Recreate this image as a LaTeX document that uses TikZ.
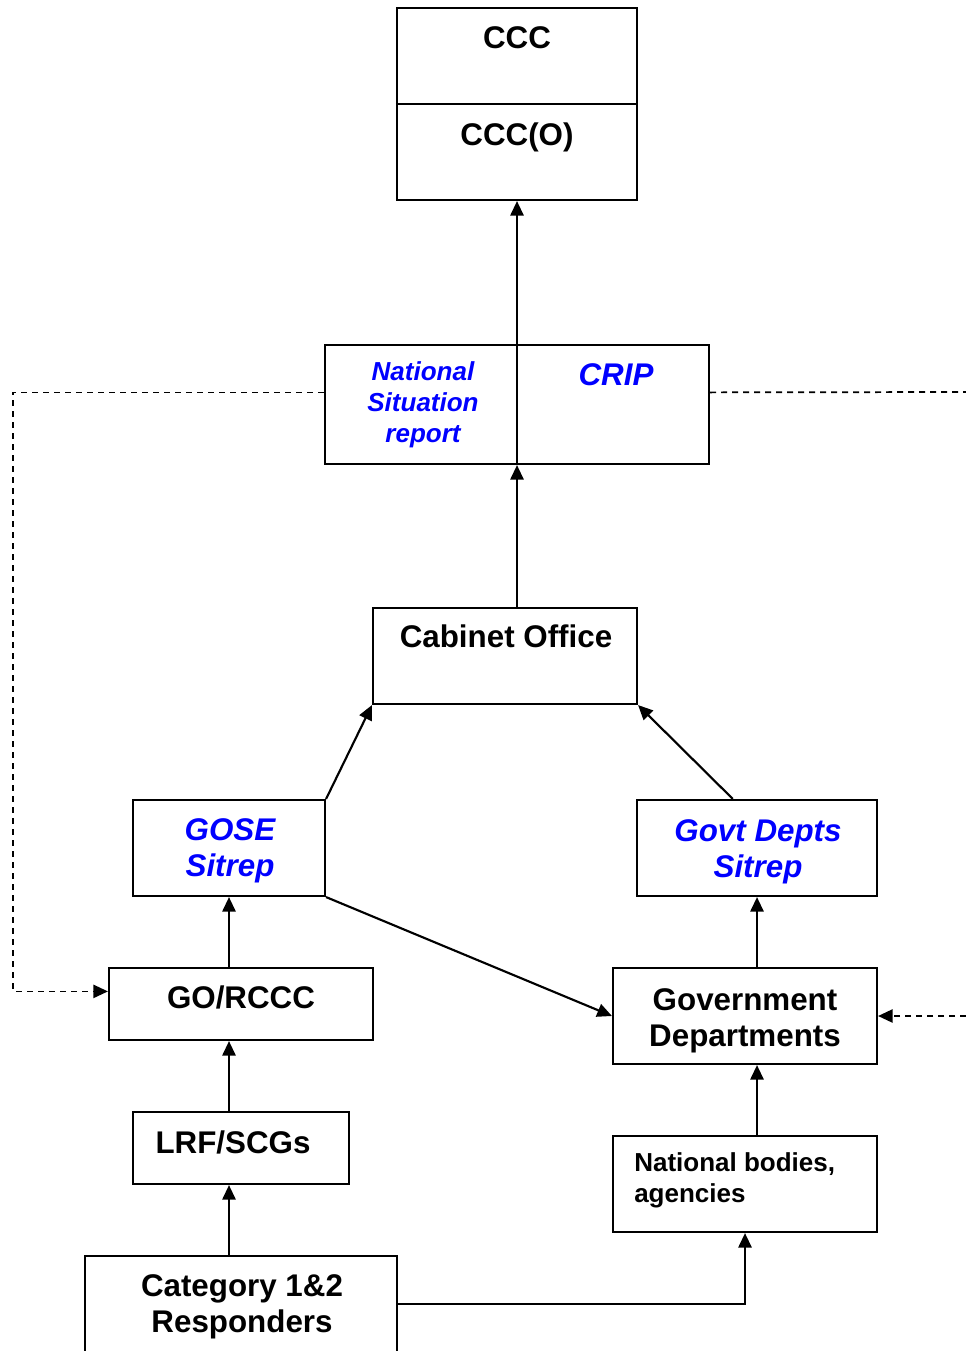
\documentclass[tikz,border=0pt]{standalone}
\usepackage{fontspec}
\setmainfont{Liberation Sans}
\usetikzlibrary{arrows.meta,fit,calc}
\definecolor{sitblue}{RGB}{0,0,255}
\begin{document}
\begin{tikzpicture}[x=0.75pt, y=-0.75pt,
  box/.style={draw, line width=1.6pt, inner sep=0pt},
  txt/.style={font=\bfseries\fontsize{23.5}{27.5}\selectfont, align=center, inner sep=0pt},
  sitrep/.style={txt, text=sitblue, font=\bfseries\itshape\fontsize{23.5}{27.5}\selectfont},
  smalltxt/.style={txt, font=\bfseries\fontsize{19.5}{23.25}\selectfont},
  sitsmall/.style={smalltxt, text=sitblue, font=\bfseries\itshape\fontsize{19.5}{23.25}\selectfont},
  arr/.style={line width=1.6pt, -{Triangle[length=11pt, width=10pt]}},
  dashline/.style={arr, line width=1.3pt, dash pattern=on 4.5pt off 3.75pt}]
  \useasboundingbox (0,0) rectangle (966,1351);
  \clip (0,0) rectangle (966,1351);

  % CCC
  \node[box, fit={(397,8) (637,200)}] (ccc) {};
  \draw[line width=1.6pt] (ccc.west) -- (ccc.east);
  \node[txt, anchor=base] (ccctxt) at (517,49) {CCC};
  \node[txt, anchor=base] (cccotxt) at (517,146) {CCC(O)};

  % situation report / CRIP
  \node[box, fit={(325,345) (709,464)}] (sit) {};
  \draw[line width=1.6pt] (sit.north) -- (sit.south);
  \node[sitsmall, anchor=north] (sittxt) at (423,361) {National\\Situation\\report};
  \node[sitrep, anchor=base] (criptxt) at (616,385) {CRIP};

  \node[box, fit={(373,608) (637,704)}] (cab) {};
  \node[txt, anchor=base] (cabtxt) at (506,647) {Cabinet Office};

  % sitreps
  \node[box, fit={(133,800) (325,896)}] (gose) {};
  \node[sitrep, anchor=north] (gosetxt) at (230,818) {GOSE\\Sitrep};
  \node[box, fit={(637,800) (877,896)}] (gsit) {};
  \node[sitrep, anchor=north] (gsittxt) at (758,819) {Govt Depts\\Sitrep};

  \node[box, fit={(109,968) (373,1040)}] (gorccc) {};
  \node[txt, anchor=base] (gorccctxt) at (241,1008) {GO/RCCC};
  \node[box, fit={(613,968) (877,1064)}] (govdep) {};
  \node[txt, anchor=north] (govdeptxt) at (745,988) {Government\\Departments};

  \node[box, fit={(133,1112) (349,1184)}] (lrf) {};
  \node[txt, anchor=base] (lrftxt) at (233,1153) {LRF/SCGs};
  \node[box, fit={(613,1136) (877,1232)}] (natbod) {};
  \node[smalltxt, align=left, anchor=north west] (natbodtxt) at (634,1152) {National bodies,\\agencies};

  \node[box, fit={(85,1256) (397,1352)}] (cat) {};
  \node[txt, anchor=north] (cattxt) at (242,1274) {Category 1\&2\\Responders};

  % arrows
  \draw[arr] (sit.north) -- (ccc.south);
  \draw[arr] (cab.north -| sit.south) -- (sit.south);
  \draw[arr] (gose.north east) -- (cab.south west);
  \draw[arr] ($(gsit.north west)!0.4!(gsit.north east)$) -- (cab.south east);
  \draw[arr] (gorccc.north -| gose.south) -- (gose.south);
  \draw[arr] (govdep.north -| gsit.south) -- (gsit.south);
  \draw[arr] (gose.south east) -- (govdep.west);
  \draw[arr] (lrf.north -| gose.south) -- (gorccc.south -| gose.south);
  \draw[arr] (natbod.north -| gsit.south) -- (govdep.south -| gsit.south);
  \draw[arr] (cat.north -| gose.south) -- (lrf.south -| gose.south);
  \draw[arr] (cat.east) -| (natbod.south);

  % dashed feedback
  \coordinate (sitw) at ($(sit.north west)!0.4!(sit.south west)$);
  \coordinate (site) at ($(sit.north east)!0.4!(sit.south east)$);
  \coordinate (gow) at ($(gorccc.north west)!0.33!(gorccc.south west)$);
  \coordinate (dashL) at (13,700);
  \coordinate (dashR) at (966,392);
  \coordinate (dashRin) at (966,1016);
  \draw[dashline] (sitw) -| (dashL) |- (gow);
  \draw[dashline, -] (site) -- (dashR);
  \draw[dashline] (dashRin) -- (govdep.east);
\end{tikzpicture}
\end{document}
